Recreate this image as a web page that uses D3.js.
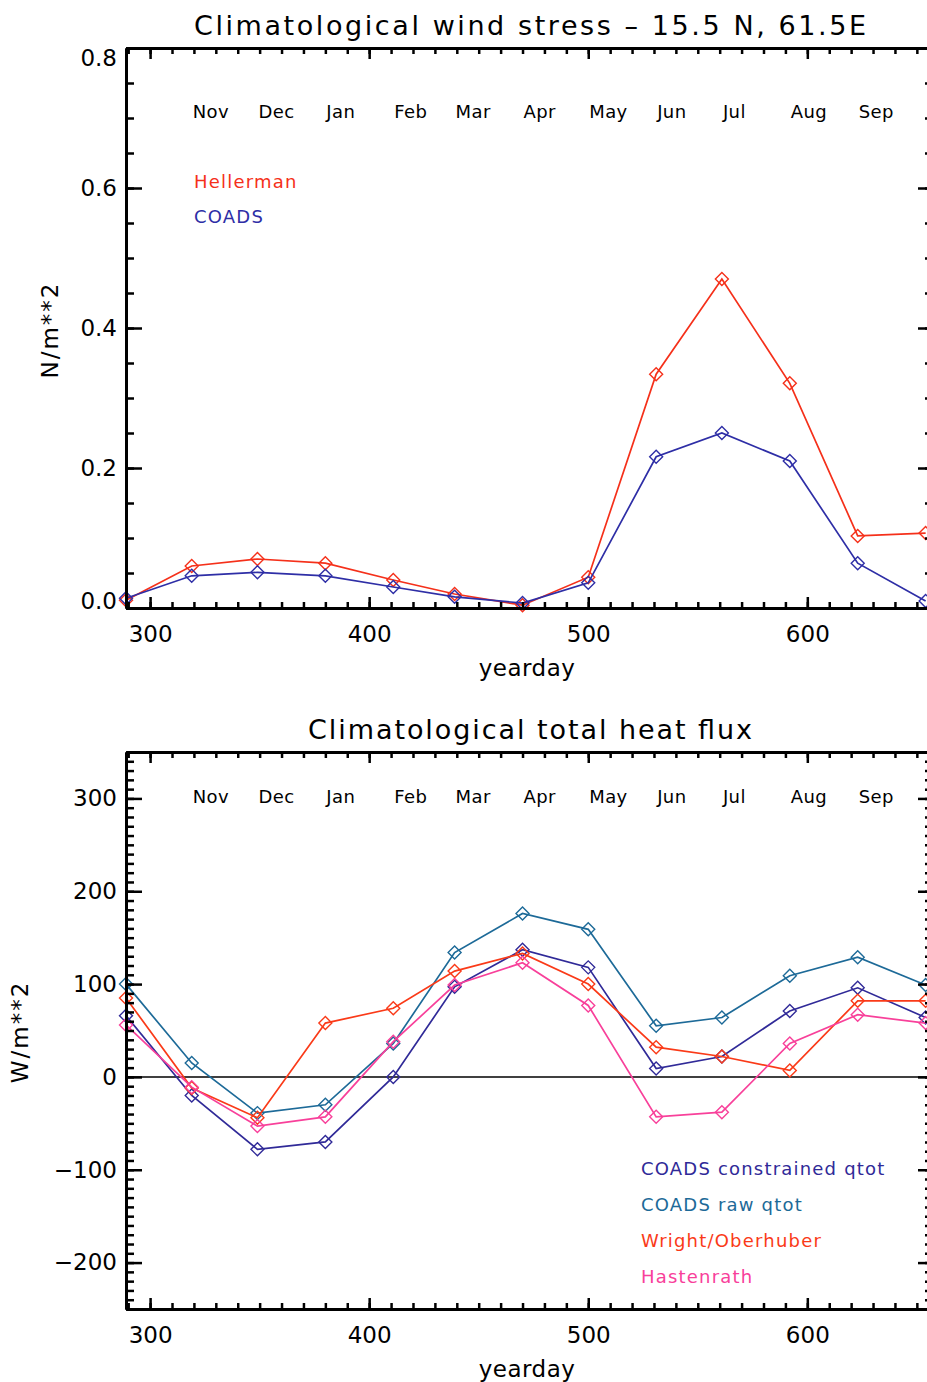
<!DOCTYPE html>
<html>
<head>
<meta charset="utf-8">
<script src="https://cdn.jsdelivr.net/npm/d3@7"></script>
<style>
  body { margin: 0; background: #fff; }
  svg { display: block; font-family: "DejaVu Sans", sans-serif; }
</style>
</head>
<body>
<div id="chart"></div>
<script>
// mid-month yeardays (Oct .. Oct)
const days = [289, 319, 349, 380, 411, 439, 470, 500, 531, 561, 592, 623, 654];
const monthNames = ["Nov", "Dec", "Jan", "Feb", "Mar", "Apr", "May", "Jun", "Jul", "Aug", "Sep"];
const xTicks = [300, 400, 500, 600];

// wind stress, N/m**2
const hellerman = [0.011, 0.060, 0.070, 0.064, 0.040, 0.020, 0.004, 0.044, 0.334, 0.470, 0.321, 0.103, 0.107];
const coadsStress = [0.014, 0.046, 0.051, 0.046, 0.030, 0.016, 0.007, 0.036, 0.216, 0.250, 0.210, 0.064, 0.010];
const stressTicks = [0, 0.2, 0.4, 0.6, 0.8];

// total heat flux, W/m**2
const coadsConstrained = [66, -20, -78, -70, 0, 97, 137, 118, 9, 22, 71, 96, 64];
const coadsRaw = [100, 15, -39, -30, 36, 134, 176, 159, 55, 64, 109, 129, 99];
const wrightOberhuber = [85, -12, -44, 58, 74, 114, 133, 100, 32, 22, 7, 82, 82];
const hastenrath = [56, -11, -53, -43, 38, 99, 123, 77, -43, -38, 36, 67, 58];
const fluxTicks = [-200, -100, 0, 100, 200, 300];

const W = 927, H = 1382;
const svg = d3.select("#chart").append("svg")
  .attr("width", W)
  .attr("height", H);

const x = d3.scaleLinear().domain([289, 656]).range([126, 930]);

function panel(opt) {
  const y = d3.scaleLinear().domain(opt.yDomain).range([opt.bottom, opt.top]);
  const g = svg.append("g");
  const xMinor = d3.range(290, 656, 10);

  // title
  g.append("text")
    .attr("x", 530).attr("y", opt.top - 13)
    .attr("text-anchor", "middle")
    .attr("font-size", 27)
    .attr("textLength", opt.titleWidth)
    .attr("lengthAdjust", "spacing")
    .text(opt.title);

  // zero line
  if (opt.zeroLine) {
    g.append("line")
      .attr("x1", x.range()[0]).attr("x2", x.range()[1])
      .attr("y1", y(0)).attr("y2", y(0))
      .attr("stroke", "#000").attr("stroke-width", 1.5);
  }

  // series
  const line = d3.line().x((d, i) => x(days[i])).y(d => y(d));
  opt.series.forEach(s => {
    g.append("path")
      .datum(s.values)
      .attr("d", line)
      .attr("fill", "none")
      .attr("stroke", s.color)
      .attr("stroke-width", 1.7);
    g.append("g").selectAll("path")
      .data(s.values)
      .enter().append("path")
      .attr("d", "M0,-6.5L6.5,0L0,6.5L-6.5,0Z")
      .attr("transform", (d, i) => `translate(${x(days[i])},${y(d)})`)
      .attr("fill", "none")
      .attr("stroke", s.color)
      .attr("stroke-width", 1.4);
  });

  // axes
  const styleAxis = sel => {
    sel.selectAll("path.domain").attr("stroke", "#000").attr("stroke-width", 3);
    sel.selectAll(".tick line").attr("stroke", "#000").attr("stroke-width", 2.5);
    sel.selectAll(".tick text").attr("fill", "#000").attr("font-size", 23)
      .attr("font-family", "DejaVu Sans, sans-serif");
  };

  g.append("g").attr("transform", `translate(0,${opt.bottom})`)
    .call(d3.axisBottom(x).tickValues(xTicks).tickSizeInner(-11).tickSizeOuter(0).tickPadding(18).tickFormat(d3.format("d")))
    .call(styleAxis);
  g.append("g").attr("transform", `translate(0,${opt.bottom})`)
    .call(d3.axisBottom(x).tickValues(xMinor).tickSizeInner(-6).tickSizeOuter(0).tickFormat(""))
    .call(styleAxis);
  g.append("g").attr("transform", `translate(0,${opt.top})`)
    .call(d3.axisTop(x).tickValues(xTicks).tickSizeInner(-11).tickSizeOuter(0).tickFormat(""))
    .call(styleAxis);
  g.append("g").attr("transform", `translate(0,${opt.top})`)
    .call(d3.axisTop(x).tickValues(xMinor).tickSizeInner(-6).tickSizeOuter(0).tickFormat(""))
    .call(styleAxis);

  const leftAxis = g.append("g").attr("transform", `translate(${x.range()[0]},0)`)
    .call(d3.axisLeft(y).tickValues(opt.yTicks).tickSizeInner(-16).tickSizeOuter(0).tickPadding(9).tickFormat(opt.yFormat))
    .call(styleAxis);
  leftAxis.selectAll(".tick text")
    .attr("y", d => Math.min(Math.max(y(d), opt.top + 10), opt.bottom - 7) - y(d));
  g.append("g").attr("transform", `translate(${x.range()[0]},0)`)
    .call(d3.axisLeft(y).tickValues(opt.yMinor).tickSizeInner(-8).tickSizeOuter(0).tickFormat(""))
    .call(styleAxis);
  g.append("g").attr("transform", `translate(${x.range()[1]},0)`)
    .call(d3.axisRight(y).tickValues(opt.yTicks).tickSizeInner(-12).tickSizeOuter(0).tickFormat(""))
    .call(styleAxis);
  g.append("g").attr("transform", `translate(${x.range()[1]},0)`)
    .call(d3.axisRight(y).tickValues(opt.yMinor).tickSizeInner(-5).tickSizeOuter(0).tickFormat(""))
    .call(styleAxis);

  // axis titles
  g.append("text")
    .attr("x", 527).attr("y", opt.bottom + 68)
    .attr("text-anchor", "middle")
    .attr("font-size", 23)
    .attr("letter-spacing", 0.5)
    .text("yearday");
  g.append("text")
    .attr("transform", `translate(${opt.yTitleX},${opt.yTitleY}) rotate(-90)`)
    .attr("text-anchor", "middle")
    .attr("font-size", 23)
    .attr("letter-spacing", 2)
    .text(opt.yTitle);

  // month labels
  g.append("g").selectAll("text")
    .data(monthNames)
    .enter().append("text")
    .attr("x", (d, i) => x(days[i + 1]) + 1)
    .attr("y", opt.monthY)
    .attr("font-size", 18)
    .attr("letter-spacing", 0.4)
    .text(d => d);

  // legend
  g.append("g").selectAll("text")
    .data(opt.series)
    .enter().append("text")
    .attr("x", opt.legendX)
    .attr("y", (d, i) => opt.legendY + i * opt.legendStep)
    .attr("font-size", 18)
    .attr("letter-spacing", 1.2)
    .attr("fill", d => d.color)
    .text(d => d.name);
}

panel({
  title: "Climatological wind stress \u2013 15.5 N, 61.5E",
  titleWidth: 672,
  top: 48, bottom: 608,
  yDomain: [0, 0.8],
  yTicks: stressTicks,
  yMinor: d3.range(0, 0.801, 0.05),
  yFormat: d3.format(".1f"),
  yTitle: "N/m**2", yTitleX: 58, yTitleY: 330,
  monthY: 118,
  legendX: 194, legendY: 188, legendStep: 35,
  series: [
    { name: "Hellerman", values: hellerman, color: "#f5301a" },
    { name: "COADS", values: coadsStress, color: "#2e2ea6" }
  ]
});

panel({
  title: "Climatological total heat flux",
  titleWidth: 444,
  top: 752, bottom: 1309,
  yDomain: [-250, 350],
  yTicks: fluxTicks,
  yMinor: d3.range(-250, 351, 10),
  yFormat: d3.format("d"),
  yTitle: "W/m**2", yTitleX: 28, yTitleY: 1032,
  zeroLine: true,
  monthY: 803,
  legendX: 641, legendY: 1175, legendStep: 36,
  series: [
    { name: "COADS constrained qtot", values: coadsConstrained, color: "#302a98" },
    { name: "COADS raw qtot", values: coadsRaw, color: "#1d6a98" },
    { name: "Wright/Oberhuber", values: wrightOberhuber, color: "#fa3a18" },
    { name: "Hastenrath", values: hastenrath, color: "#f8409a" }
  ]
});
</script>
</body>
</html>
